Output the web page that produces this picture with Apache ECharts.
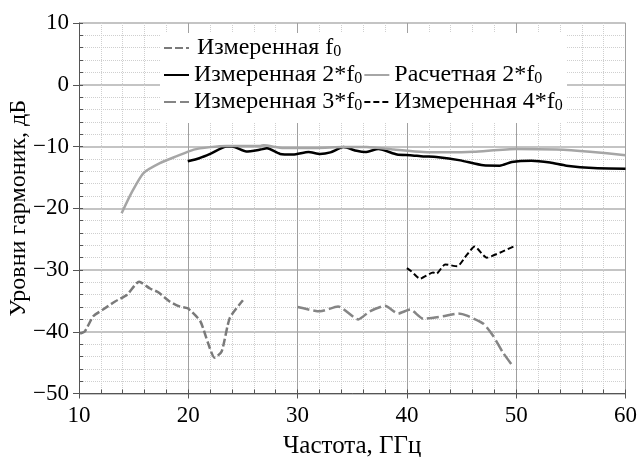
<!DOCTYPE html>
<html>
<head>
<meta charset="utf-8">
<script src="https://cdn.jsdelivr.net/npm/echarts@6/dist/echarts.min.js"></script>
<style>
  html, body { margin: 0; padding: 0; background: #fff; }
  #chart { width: 639px; height: 457px; }
</style>
</head>
<body>
<div id="chart"></div>
<script>
// Frequency axis, GHz, and harmonic level axis, dB
const xTicks = [10, 20, 30, 40, 50, 60];
const yTicks = [-50, -40, -30, -20, -10, 0, 10];

// Series names
const names = [
  'Измеренная f0',
  'Измеренная 2*f0',
  'Расчетная 2*f0',
  'Измеренная 3*f0',
  'Измеренная 4*f0'
];

// Measured fundamental f0
const f0Freq  = [10.1, 10.55, 11.3, 12.2, 13.3, 14.4, 15.5, 16.5, 17.25, 18.3, 19.2, 19.95, 21.1, 21.8, 22.4, 23.05, 23.8, 25.0];
const f0Level = [-40.3, -39.9, -37.5, -36.4, -35.1, -34.0, -31.9, -33.0, -33.6, -35.1, -35.9, -36.2, -38.3, -41.8, -44.2, -43.2, -37.75, -34.9];

// Measured 2nd harmonic
const m2Freq  = [19.95, 21.0, 22.0, 23.5, 24.0, 25.3, 26.6, 27.2, 28.4, 29.6, 31.0, 32.05, 33.0, 34.2, 35.4, 36.2, 37.4, 39.1, 40.3, 41.5, 42.7, 44.9, 47.0, 48.5, 49.6, 51.4, 53.1, 54.6, 57.05, 60.0];
const m2Level = [-12.4, -11.9, -11.2, -10.0, -10.0, -10.8, -10.5, -10.3, -11.2, -11.3, -10.9, -11.2, -10.95, -10.1, -10.7, -10.9, -10.4, -11.3, -11.4, -11.6, -11.7, -12.25, -13.05, -13.1, -12.5, -12.3, -12.6, -13.1, -13.5, -13.6];

// Calculated 2nd harmonic
const c2Freq  = [13.9, 14.8, 15.9, 17.4, 18.9, 20.5, 22.0, 23.5, 26.6, 26.9, 28.7, 31.7, 34.2, 36.3, 38.8, 41.5, 43.9, 46.1, 50.0, 53.7, 56.75, 60.0];
const c2Level = [-20.8, -17.5, -14.3, -12.7, -11.6, -10.5, -10.1, -9.9, -9.9, -9.8, -10.25, -10.25, -10.1, -10.1, -10.5, -10.9, -10.95, -10.85, -10.4, -10.5, -10.85, -11.4];

// Measured 3rd harmonic
const m3Freq  = [30.0, 32.05, 33.7, 35.55, 36.6, 38.0, 39.2, 40.3, 41.5, 43.3, 44.7, 45.5, 47.0, 47.9, 48.8, 49.7];
const m3Level = [-36.0, -36.7, -35.9, -38.0, -36.7, -35.8, -37.05, -36.4, -37.9, -37.5, -37.05, -37.4, -38.7, -40.7, -43.4, -45.6];

// Measured 4th harmonic
const m4Freq  = [40.0, 40.4, 41.2, 42.4, 42.7, 43.5, 44.6, 45.5, 46.2, 47.3, 48.5, 50.0];
const m4Level = [-29.7, -30.2, -31.4, -30.4, -30.6, -29.1, -29.4, -27.5, -26.2, -28.0, -27.2, -26.0];

const pairs = (xs, ys) => xs.map((x, i) => [x, ys[i]]);

const FONT = '"Liberation Serif", "Times New Roman", serif';
const AXIS_COLOR = '#555';

const chart = echarts.init(document.getElementById('chart'), null, { renderer: 'canvas' });

function lineSeries(name, data, color, width, type) {
  return {
    name: name,
    type: 'line',
    data: data,
    xAxisIndex: 0,
    yAxisIndex: 0,
    symbol: 'none',
    smooth: 0.2,
    lineStyle: { color: color, width: width, type: type, cap: 'butt' },
    itemStyle: { color: color },
    emphasis: { disabled: true },
    z: 3
  };
}

const legendText = {
  fontFamily: FONT,
  fontSize: 24,
  color: '#000',
  rich: {
    t: { fontFamily: FONT, fontSize: 24, color: '#000', lineHeight: 24 },
    p: { fontFamily: FONT, fontSize: 24, color: '#000', lineHeight: 24, padding: [0, 0, 0, 3] },
    s: { fontFamily: FONT, fontSize: 16, color: '#000', lineHeight: 13, verticalAlign: 'bottom' }
  }
};

function legendFormatter(pad) {
  return function (name) {
    const base = name.replace(/0$/, '');
    return '{' + (pad ? 'p' : 't') + '|' + base + '}{s|0}';
  };
}

function legendRow(data, top, pad) {
  return {
    data: data,
    left: 163,
    top: top,
    orient: 'horizontal',
    padding: 0,
    itemGap: 1,
    itemWidth: 25,
    itemHeight: 14,
    selectedMode: false,
    // line-only keys: hide the point marker drawn over the legend line
    itemStyle: { color: 'transparent', borderWidth: 0, opacity: 0 },
    textStyle: legendText,
    formatter: legendFormatter(pad)
  };
}

const option = {
  backgroundColor: '#fff',
  animation: false,
  grid: {
    left: 79, right: 13.5, top: 23, bottom: 63.5,
    containLabel: false,
    outerBoundsMode: 'none'
  },
  graphic: [
    {
      type: 'rect',
      left: 160,
      top: 33,
      z: 1,
      silent: true,
      shape: { width: 407, height: 90 },
      style: { fill: '#fff' }
    }
  ],
  legend: [
    legendRow([names[0]], 36, true),
    legendRow([names[1], names[2]], 63, false),
    legendRow([names[3], names[4]], 90, false)
  ],
  xAxis: [
    {
      type: 'value',
      min: xTicks[0],
      max: xTicks[xTicks.length - 1],
      interval: 10,
      position: 'bottom',
      name: 'Частота, ГГц',
      nameLocation: 'middle',
      nameGap: 40,
      nameMoveOverlap: false,
      nameTextStyle: { fontFamily: FONT, fontSize: 25, color: '#000' },
      axisLine: { show: true, onZero: false, lineStyle: { color: AXIS_COLOR, width: 1 } },
      axisTick: { show: true, inside: false, length: 5, lineStyle: { color: AXIS_COLOR } },
      axisLabel: { fontFamily: FONT, fontSize: 23, color: '#000', margin: 11 },
      splitLine: { show: true, lineStyle: { color: '#a0a0a0', width: 1 } },
      minorTick: { show: false, splitNumber: 5 },
      minorSplitLine: { show: true, lineStyle: { color: '#cfcfcf', width: 1, type: 'dotted' } }
    },
    {
      // inner minor ticks every 2 GHz
      type: 'value',
      min: xTicks[0],
      max: xTicks[xTicks.length - 1],
      interval: 2,
      position: 'bottom',
      axisLine: { show: false, onZero: false },
      axisTick: { show: true, inside: true, length: 4, lineStyle: { color: AXIS_COLOR } },
      axisLabel: { show: false },
      splitLine: { show: false }
    }
  ],
  yAxis: [
    {
      type: 'value',
      min: yTicks[0],
      max: yTicks[yTicks.length - 1],
      interval: 10,
      position: 'left',
      name: 'Уровни гармоник, дБ',
      nameLocation: 'middle',
      nameGap: 48,
      nameMoveOverlap: false,
      nameTextStyle: { fontFamily: FONT, fontSize: 24, color: '#000' },
      axisLine: { show: true, onZero: false, lineStyle: { color: AXIS_COLOR, width: 1 } },
      axisTick: { show: true, inside: false, length: 6, lineStyle: { color: AXIS_COLOR } },
      axisLabel: {
        fontFamily: FONT, fontSize: 23, color: '#000', margin: 10,
        formatter: v => (v < 0 ? '\u2212' + Math.abs(v) : String(v))
      },
      splitLine: { show: true, lineStyle: { color: '#c4c4c4', width: 2 } },
      minorTick: { show: false, splitNumber: 5 },
      minorSplitLine: { show: true, lineStyle: { color: '#cfcfcf', width: 1, type: 'dotted' } }
    },
    {
      // inner minor ticks every 2 dB
      type: 'value',
      min: yTicks[0],
      max: yTicks[yTicks.length - 1],
      interval: 2,
      position: 'left',
      axisLine: { show: false, onZero: false },
      axisTick: { show: true, inside: true, length: 4, lineStyle: { color: AXIS_COLOR } },
      axisLabel: { show: false },
      splitLine: { show: false }
    }
  ],
  series: [
    lineSeries(names[0], pairs(f0Freq, f0Level), '#7a7a7a', 2.5, [8, 3]),
    lineSeries(names[1], pairs(m2Freq, m2Level), '#000000', 2.5, 'solid'),
    lineSeries(names[2], pairs(c2Freq, c2Level), '#a6a6a6', 2.5, 'solid'),
    lineSeries(names[3], pairs(m3Freq, m3Level), '#858585', 2.5, [12, 4]),
    lineSeries(names[4], pairs(m4Freq, m4Level), '#000000', 2, [6, 3])
  ]
};

chart.setOption(option);
</script>
</body>
</html>
